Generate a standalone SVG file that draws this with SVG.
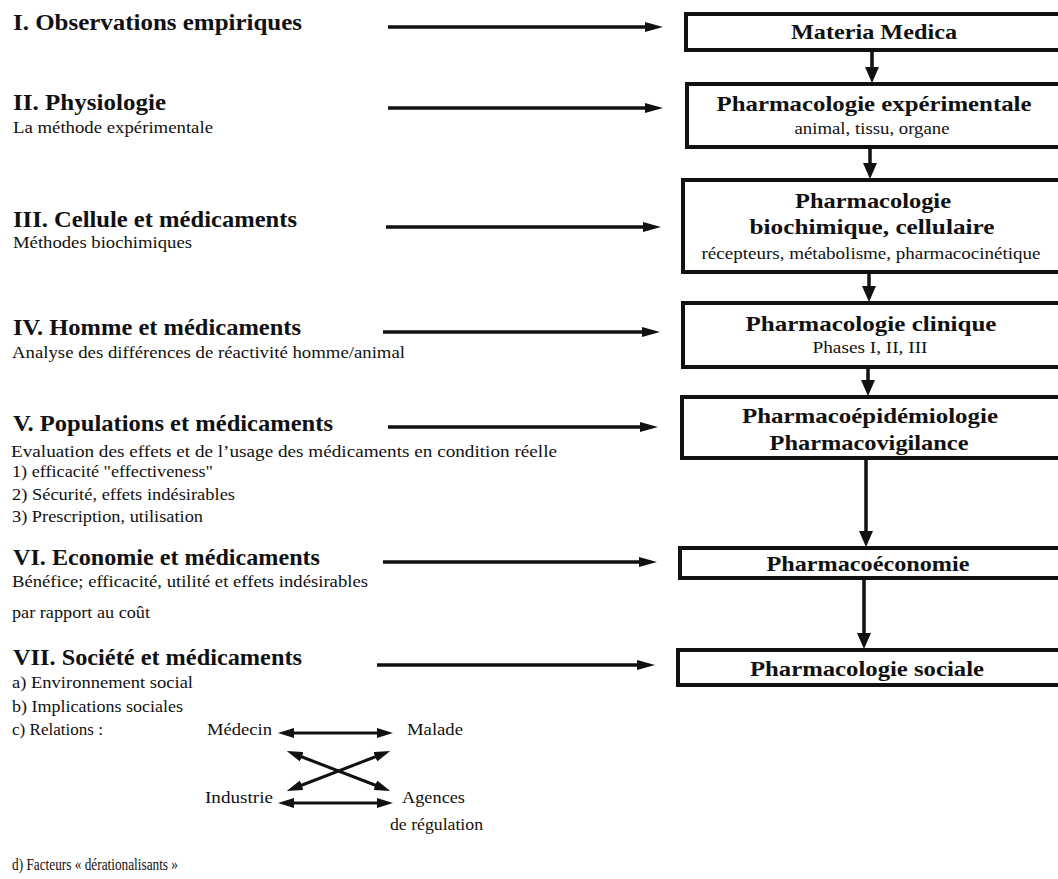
<svg xmlns="http://www.w3.org/2000/svg" width="1058" height="879" viewBox="0 0 1058 879">
<defs>
<marker id="ah" viewBox="0 0 18 10" refX="5" refY="5" markerWidth="18" markerHeight="10" markerUnits="userSpaceOnUse" orient="auto-start-reverse"><path d="M0,0 L18,5 L0,10 Z" fill="#111"/></marker>
<marker id="av" viewBox="0 0 16 14" refX="5" refY="7" markerWidth="16" markerHeight="14" markerUnits="userSpaceOnUse" orient="auto"><path d="M0,0 L16,7 L0,14 Z" fill="#111"/></marker>
<marker id="ar" viewBox="0 0 16 10" refX="5" refY="5" markerWidth="16" markerHeight="10" markerUnits="userSpaceOnUse" orient="auto-start-reverse"><path d="M0,0 L16,5 L0,10 Z" fill="#111"/></marker>
</defs>
<style>
.h{font-family:"Liberation Serif",serif;font-weight:bold;font-size:23px;fill:#111}
.s{font-family:"Liberation Serif",serif;font-size:17.5px;fill:#111}
.bt{font-family:"Liberation Serif",serif;font-weight:bold;font-size:21px;fill:#111;text-anchor:middle}
.bs{font-family:"Liberation Serif",serif;font-size:16px;fill:#111;text-anchor:middle}
.box{fill:#fff;stroke:#111;stroke-width:4}
.ha{stroke:#111;stroke-width:3.5;fill:none;marker-end:url(#ah)}
.va{stroke:#111;stroke-width:3.5;fill:none;marker-end:url(#av)}
.ra{stroke:#111;stroke-width:3;fill:none;marker-start:url(#ar);marker-end:url(#ar)}
</style>
<rect width="1058" height="879" fill="#fff"/>

<g id="left">
<text class="h" x="13" y="30" textLength="289" lengthAdjust="spacingAndGlyphs">I. Observations empiriques</text>
<text class="h" x="13" y="110" textLength="153" lengthAdjust="spacingAndGlyphs">II. Physiologie</text>
<text class="s" x="13" y="133" textLength="200" lengthAdjust="spacingAndGlyphs">La méthode expérimentale</text>
<text class="h" x="13" y="227" textLength="284" lengthAdjust="spacingAndGlyphs">III. Cellule et médicaments</text>
<text class="s" x="13" y="248" textLength="179" lengthAdjust="spacingAndGlyphs">Méthodes biochimiques</text>
<text class="h" x="13" y="335" textLength="288" lengthAdjust="spacingAndGlyphs">IV. Homme et médicaments</text>
<text class="s" x="12" y="358" textLength="393" lengthAdjust="spacingAndGlyphs">Analyse des différences de réactivité homme/animal</text>
<text class="h" x="13" y="431" textLength="320" lengthAdjust="spacingAndGlyphs">V. Populations et médicaments</text>
<text class="s" x="11" y="457" textLength="546" lengthAdjust="spacingAndGlyphs">Evaluation des effets et de l’usage des médicaments en condition réelle</text>
<text class="s" x="12" y="477" textLength="201" lengthAdjust="spacingAndGlyphs">1) efficacité "effectiveness"</text>
<text class="s" x="12" y="500" textLength="223" lengthAdjust="spacingAndGlyphs">2) Sécurité, effets indésirables</text>
<text class="s" x="12" y="522" textLength="191" lengthAdjust="spacingAndGlyphs">3) Prescription, utilisation</text>
<text class="h" x="13" y="565" textLength="307" lengthAdjust="spacingAndGlyphs">VI. Economie et médicaments</text>
<text class="s" x="12" y="587" textLength="356" lengthAdjust="spacingAndGlyphs">Bénéfice; efficacité, utilité et effets indésirables</text>
<text class="s" x="12" y="618" textLength="138" lengthAdjust="spacingAndGlyphs">par rapport au coût</text>
<text class="h" x="13" y="665" textLength="289" lengthAdjust="spacingAndGlyphs">VII. Société et médicaments</text>
<text class="s" x="12" y="688" textLength="181" lengthAdjust="spacingAndGlyphs">a) Environnement social</text>
<text class="s" x="12" y="712" textLength="171" lengthAdjust="spacingAndGlyphs">b) Implications sociales</text>
<text class="s" x="12" y="735" textLength="91" lengthAdjust="spacingAndGlyphs">c) Relations :</text>
<text class="s" x="12" y="870" textLength="166" lengthAdjust="spacingAndGlyphs">d) Facteurs « dérationalisants »</text>
</g>

<g id="relations">
<text class="s" x="207" y="735" textLength="65" lengthAdjust="spacingAndGlyphs">Médecin</text>
<text class="s" x="407" y="735" textLength="56" lengthAdjust="spacingAndGlyphs">Malade</text>
<text class="s" x="205" y="803" textLength="68" lengthAdjust="spacingAndGlyphs">Industrie</text>
<text class="s" x="402" y="803" textLength="63" lengthAdjust="spacingAndGlyphs">Agences</text>
<text class="s" x="390" y="830" textLength="93" lengthAdjust="spacingAndGlyphs">de régulation</text>
</g>

<g id="n1"><rect class="box" x="686" y="14" width="380" height="36"/><text class="bt" x="874" y="39" textLength="166" lengthAdjust="spacingAndGlyphs">Materia Medica</text></g>
<g id="n2"><rect class="box" x="687" y="84" width="380" height="63"/><text class="bt" x="874" y="111" textLength="315" lengthAdjust="spacingAndGlyphs">Pharmacologie expérimentale</text><text class="bs" x="872" y="134" textLength="155" lengthAdjust="spacingAndGlyphs">animal, tissu, organe</text></g>
<g id="n3"><rect class="box" x="683" y="180" width="384" height="92"/><text class="bt" x="873" y="208" textLength="156" lengthAdjust="spacingAndGlyphs">Pharmacologie</text><text class="bt" x="872" y="234" textLength="245" lengthAdjust="spacingAndGlyphs">biochimique, cellulaire</text><text class="bs" x="871" y="259" textLength="339" lengthAdjust="spacingAndGlyphs">récepteurs, métabolisme, pharmacocinétique</text></g>
<g id="n4"><rect class="box" x="683" y="303" width="384" height="64"/><text class="bt" x="871" y="331" textLength="251" lengthAdjust="spacingAndGlyphs">Pharmacologie clinique</text><text class="bs" x="870" y="353" textLength="115" lengthAdjust="spacingAndGlyphs">Phases I, II, III</text></g>
<g id="n5"><rect class="box" x="682" y="397" width="385" height="61"/><text class="bt" x="870" y="423" textLength="256" lengthAdjust="spacingAndGlyphs">Pharmacoépidémiologie</text><text class="bt" x="869" y="450" textLength="199" lengthAdjust="spacingAndGlyphs">Pharmacovigilance</text></g>
<g id="n6"><rect class="box" x="680" y="548" width="387" height="30"/><text class="bt" x="868" y="571" textLength="203" lengthAdjust="spacingAndGlyphs">Pharmacoéconomie</text></g>
<g id="n7"><rect class="box" x="678" y="650" width="389" height="35"/><text class="bt" x="867" y="676" textLength="234" lengthAdjust="spacingAndGlyphs">Pharmacologie sociale</text></g>

<g id="connectors">
<line class="ha" x1="388" y1="27" x2="650" y2="27"/>
<line class="ha" x1="388" y1="108" x2="650" y2="108"/>
<line class="ha" x1="386" y1="227" x2="648" y2="227"/>
<line class="ha" x1="383" y1="332" x2="647" y2="332"/>
<line class="ha" x1="388" y1="427" x2="645" y2="427"/>
<line class="ha" x1="383" y1="562" x2="644" y2="562"/>
<line class="ha" x1="377" y1="665" x2="642" y2="665"/>
<line class="va" x1="872" y1="50" x2="872" y2="72"/>
<line class="va" x1="870" y1="147" x2="870" y2="168"/>
<line class="va" x1="869" y1="272" x2="869" y2="291"/>
<line class="va" x1="868" y1="367" x2="868" y2="385"/>
<line class="va" x1="866" y1="458" x2="866" y2="536"/>
<line class="va" x1="864" y1="578" x2="864" y2="638"/>
<line class="ra" x1="289" y1="733" x2="382" y2="733"/>
<line class="ra" x1="289" y1="803" x2="382" y2="803"/>
<line class="ra" x1="297" y1="755" x2="380" y2="787"/>
<line class="ra" x1="380" y1="755" x2="297" y2="787"/>
</g>
</svg>
